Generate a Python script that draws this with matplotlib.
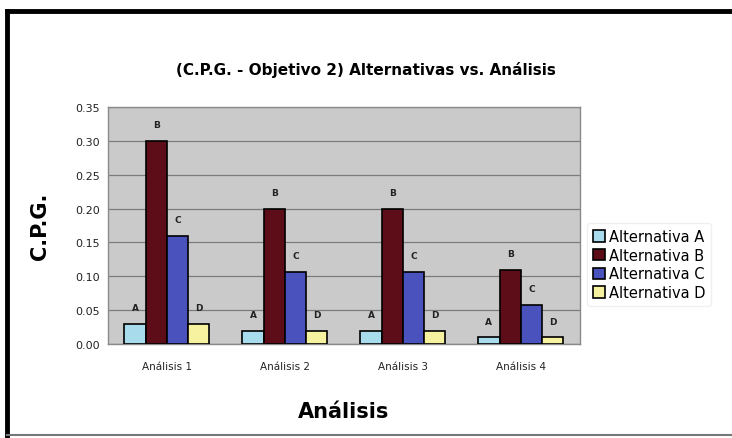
import matplotlib
matplotlib.use("Agg")
import matplotlib.pyplot as plt
from matplotlib.lines import Line2D
import numpy as np

# data
categories = ["Análisis 1", "Análisis 2", "Análisis 3", "Análisis 4"]
series_names = ["Alternativa A", "Alternativa B", "Alternativa C", "Alternativa D"]
bar_tags = ["A", "B", "C", "D"]
alt_a = [0.030, 0.020, 0.020, 0.010]
alt_b = [0.300, 0.200, 0.200, 0.110]
alt_c = [0.160, 0.107, 0.107, 0.058]
alt_d = [0.030, 0.020, 0.020, 0.010]
y_ticks = [0.00, 0.05, 0.10, 0.15, 0.20, 0.25, 0.30, 0.35]

colors = ["#a8dcec", "#5c0d18", "#4a52bd", "#f6f2a0"]

fig = plt.figure(figsize=(7.32, 4.39), dpi=100)
ax = fig.add_axes([0.1475, 0.214, 0.6445, 0.54])

x = np.arange(len(categories))
width = 0.18
all_series = [alt_a, alt_b, alt_c, alt_d]
for i, vals in enumerate(all_series):
    pos = x + (i - 1.5) * width
    ax.bar(pos, vals, width=width, color=colors[i], edgecolor="black",
           linewidth=1.2, label=series_names[i], zorder=3)
    # small letter tag above each bar
    for px, v in zip(pos, vals):
        ax.text(px, v + 0.017, bar_tags[i], ha="center", va="bottom",
                fontsize=6.5, fontweight="bold", color="#222222", zorder=4)

ax.set_xlim(-0.5, len(categories) - 0.5)
ax.set_ylim(0, 0.35)
ax.set_yticks(y_ticks)
ax.set_yticklabels([f"{t:.2f}" for t in y_ticks], fontsize=8, color="#222222")
ax.set_xticks(x)
ax.set_xticklabels(categories, fontsize=7.5, color="#222222")
ax.tick_params(axis="both", length=0, pad=6)
ax.tick_params(axis="x", pad=12)

ax.set_facecolor("#cacaca")
ax.grid(axis="y", color="#7c7c7c", linewidth=0.9, zorder=0)
ax.set_axisbelow(True)
for s in ax.spines.values():
    s.set_color("#8a8a8a")
    s.set_linewidth(1.0)

ax.set_ylabel("C.P.G.", fontsize=15, fontweight="bold", labelpad=18)
ax.set_xlabel("Análisis", fontsize=15, fontweight="bold", labelpad=22)

fig.text(0.50, 0.84, "(C.P.G. - Objetivo 2) Alternativas vs. Análisis",
         ha="center", va="center", fontsize=11, fontweight="bold")

leg = fig.legend(loc="center left", bbox_to_anchor=(0.802, 0.395),
                 fontsize=10.5, frameon=True, handlelength=0.8, handleheight=0.8,
                 handletextpad=0.3, labelspacing=0.25, borderpad=0.4,
                 borderaxespad=0)
leg.get_frame().set_edgecolor("#ececec")
leg.get_frame().set_facecolor("white")

# outer chart frame: thick black top and left, thin grey bottom
fig.add_artist(Line2D([0.009, 1.0], [0.972, 0.972], transform=fig.transFigure,
                      color="black", linewidth=3.5))
fig.add_artist(Line2D([0.009, 0.009], [0.972, 0.005], transform=fig.transFigure,
                      color="black", linewidth=3.5))
fig.add_artist(Line2D([0.009, 1.0], [0.006, 0.006], transform=fig.transFigure,
                      color="#777777", linewidth=1.5))

fig.savefig("out.png", dpi=100)
